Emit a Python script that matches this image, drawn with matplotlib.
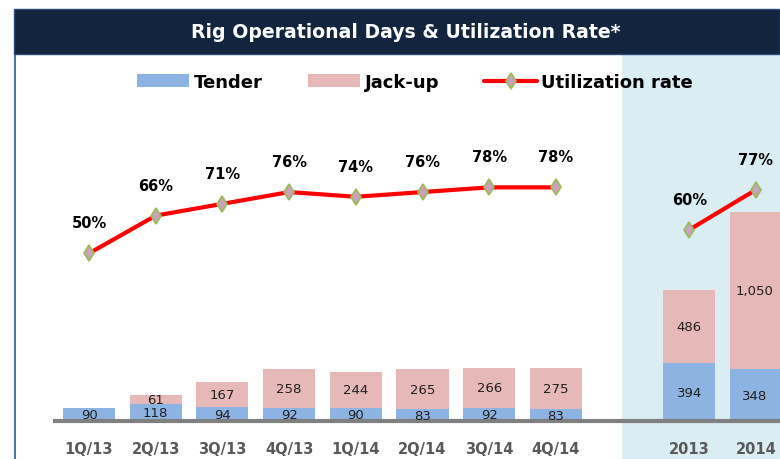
import matplotlib
matplotlib.use("Agg")
import matplotlib.pyplot as plt
from matplotlib.patches import Rectangle, Patch
from matplotlib.lines import Line2D
import numpy as np

# ---- data ----
categories = ['1Q/13', '2Q/13', '3Q/13', '4Q/13', '1Q/14', '2Q/14', '3Q/14', '4Q/14', '2013', '2014']
tender = [90, 118, 94, 92, 90, 83, 92, 83, 394, 348]
jackup = [0, 61, 167, 258, 244, 265, 266, 275, 486, 1050]
util_q = [50, 66, 71, 76, 74, 76, 78, 78]
util_y = [60, 77]

# ---- style ----
C_TENDER = '#8db3e2'
C_JACK = '#e6b9b8'
C_LINE = '#ff0000'
C_BG = '#daedf3'
C_NAVY = '#13243f'

W, H = 780, 460
fig = plt.figure(figsize=(W / 100, H / 100), dpi=100)

# title banner
fig.patches.append(Rectangle((14 / W, 1 - 55 / H), 1 - 14 / W, 45 / H, transform=fig.transFigure,
                             facecolor=C_NAVY, edgecolor='#2c4a7a', lw=1.0, zorder=5))
fig.text(406 / W, 1 - 33 / H, 'Rig Operational Days & Utilization Rate*', color='white',
         fontsize=13.6, fontweight='bold', family='DejaVu Sans', ha='center', va='center', zorder=6)

ax = fig.add_axes([15 / W, 0, 1 - 15 / W, (H - 55) / H])
ax2 = ax.twinx()
ax.set_zorder(1)
ax2.set_zorder(2)
ax.patch.set_visible(False)

x = np.array(list(range(8)) + [9, 10], dtype=float)
xq = x[:8]
xy = x[8:]
x_left = -1.11
x_right = 10.36
ax.set_xlim(x_left, x_right)
ax.set_ylim(-250.7, 2456)
ax2.set_ylim(-37.3, 134.6)

# background for annual section
ax.axvspan(7.99, x_right, color=C_BG, zorder=0, lw=0)

bw = 0.78
b1 = ax.bar(x, tender, width=bw, color=C_TENDER, zorder=2, lw=0)
b2 = ax.bar(x, jackup, width=bw, bottom=tender, color=C_JACK, zorder=2, lw=0)
ax.hlines(0, -0.54, x_right, color='#808080', lw=3, zorder=3)

def fmt(v):
    return '' if v == 0 else f'{v:,}'

ax.bar_label(b1, labels=[fmt(v) for v in tender], label_type='center', fontsize=9.5,
             color='#1f1f1f', family='DejaVu Sans', zorder=4)
ax.bar_label(b2, labels=[fmt(v) for v in jackup], label_type='center', fontsize=9.5,
             color='#1f1f1f', family='DejaVu Sans', zorder=4)

line_kw = dict(color=C_LINE, lw=3, marker='d', markersize=8, markerfacecolor='#c8a2b8',
               markeredgecolor='#9bbb59', markeredgewidth=1.2, solid_capstyle='round')
ax2.plot(xq, util_q, **line_kw, zorder=5)
ax2.plot(xy, util_y, **line_kw, zorder=5)
for xi, v in zip(list(xq) + list(xy), util_q + util_y):
    ax2.annotate(f'{v}%', (xi, v), xytext=(0, 22), textcoords='offset points', ha='center',
                 va='center', fontsize=10.5, fontweight='bold', color='black')

# x tick labels, kept fully inside the canvas
ax.set_xticks(x)
ax.set_xticklabels(categories, fontsize=10.5, fontweight='bold', color='#595959')
ax.tick_params(axis='x', length=0, pad=-13)
ax.set_yticks([])
ax2.set_yticks([])
for a in (ax, ax2):
    for s in ('top', 'right', 'bottom'):
        a.spines[s].set_visible(False)
ax.spines['left'].set_color('#4f72a8')
ax.spines['left'].set_linewidth(1.5)
ax2.spines['left'].set_visible(False)

handles = [Patch(facecolor=C_TENDER, edgecolor='none'),
           Patch(facecolor=C_JACK, edgecolor='none'),
           Line2D([0], [0], **line_kw)]
leg = fig.legend(handles, ['Tender', 'Jack-up', 'Utilization rate'], loc='center',
                 bbox_to_anchor=(415 / W, 1 - 83 / H), ncol=3, frameon=False,
                 prop=dict(family='DejaVu Sans', weight='bold', size=13),
                 handlelength=2.9, handleheight=0.72, handletextpad=0.25, columnspacing=2.5)
leg.set_zorder(10)

fig.savefig('out.png', dpi=100)
